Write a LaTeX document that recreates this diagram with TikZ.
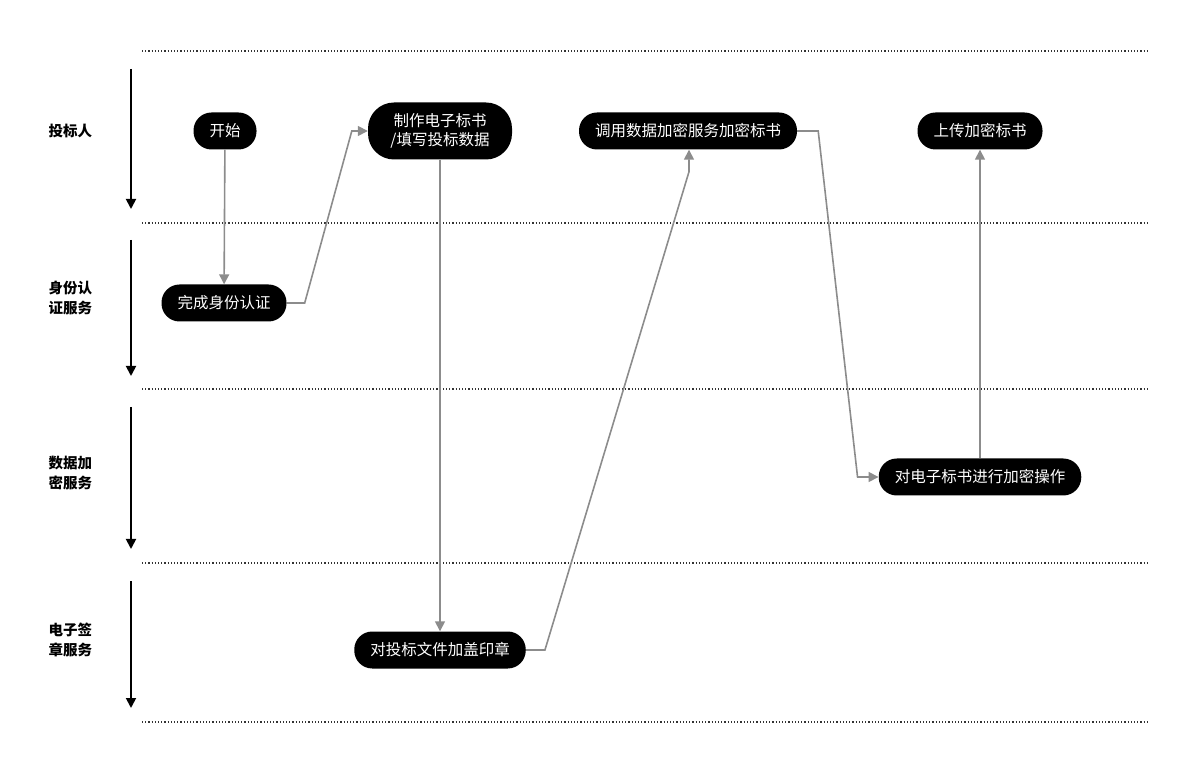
\documentclass[tikz,border=0pt]{standalone}
\usepackage{fontspec}
\setmainfont{Noto Sans CJK SC}
\usetikzlibrary{arrows.meta,positioning,calc}

\tikzset{
  stepbox/.style={fill=black, text=white, rounded corners=18pt, minimum height=37pt, inner xsep=16pt, font=\fontsize{15.5}{19.5}\selectfont, align=center},
  lanelabel/.style={font=\fontsize{14.5}{20}\selectfont\bfseries, align=left, anchor=west},
  flow/.style={draw=black!45, line width=1.6pt, -{Triangle[length=10pt,width=10pt]}},
  lanearrow/.style={draw=black, line width=1.8pt, -{Triangle[length=10pt,width=10pt]}},
  laneline/.style={draw=black!80, line width=1.2pt, dotted}
}

\begin{document}
\begin{tikzpicture}[x=1pt,y=-1pt]
            \useasboundingbox (0,0) rectangle (1203,775);

            % Lane separators
            \foreach \y in {51,223,389,563,722}
                \draw[laneline] (142,\y) -- (1148,\y);

            % Lane arrows
            \foreach \a/\b in {69/209,240/376,407/549,581/708}
                \draw[lanearrow] (131,\a) -- (131,\b);

            % Lane labels
            \node[lanelabel] (lbid) at (45,131) {投标人};
            \node[lanelabel] (lauth) at (45,298) {身份认\\证服务};
            \node[lanelabel] (lenc) at (45,473) {数据加\\密服务};
            \node[lanelabel] (lsig) at (45,640) {电子签\\章服务};

            % Bidder lane
            \node[stepbox] (start) at (225,131) {开始};
            \node[stepbox, minimum width=144pt, minimum height=57pt, rounded corners=26pt] (make) at (440,131) {制作电子标书\\/填写投标数据};
            \node[stepbox] (callenc) at (688,131) {调用数据加密服务加密标书};
            \node[stepbox] (upload) at (980,131) {上传加密标书};

            % Service lanes
            \node[stepbox] (auth) at (224,303) {完成身份认证};
            \node[stepbox] (encrypt) at (980,477) {对电子标书进行加密操作};
            \node[stepbox] (seal) at (440,650) {对投标文件加盖印章};

            % Flow
            \draw[flow] (start) -- (auth);
            \draw[flow] (auth.east) -- ++(18,0) -- ($(make.west)+(-16,0)$) -- (make.west);
            \draw[flow] (make.south) -- (seal.north);
            \draw[flow] (seal.east) -- ++(19,0) -- ($(callenc.south)+(1,22)$) -- ($(callenc.south)+(1,0)$);
            \draw[flow] (callenc.east) -- ++(21,0) -- ($(encrypt.west)+(-21,0)$) -- (encrypt.west);
            \draw[flow] (encrypt) -- (upload);
        \end{tikzpicture}
\end{document}
